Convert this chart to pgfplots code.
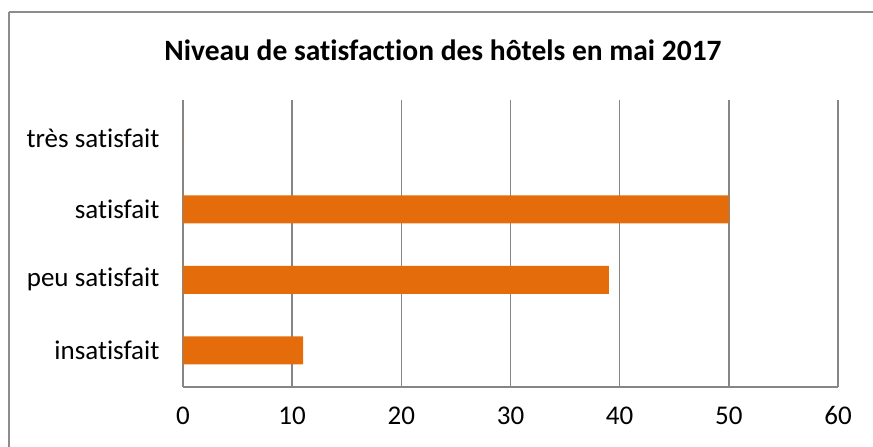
\documentclass[border=0pt]{standalone}
\usepackage{fontspec}
\setmainfont{Carlito}[Ligatures=NoCommon]
\usepackage{pgfplots}
\pgfplotsset{compat=1.18}
\definecolor{barorange}{RGB}{228,108,10}
\definecolor{gridgray}{RGB}{134,134,134}
\definecolor{framegray}{RGB}{140,140,140}

\begin{document}
\begin{tikzpicture}[x=1pt,y=1pt]
\useasboundingbox (0,0) rectangle (873,447);
\draw[framegray,line width=1.6pt] (9,435) -- (9,-20) (9,435) -- (890,435);
\node[font=\fontsize{29.5}{34}\bfseries\selectfont] at (443,397) {Niveau de satisfaction des hôtels en mai 2017};
\begin{axis}[
    at={(183pt,60pt)}, anchor=south west,
    scale only axis,
    width=655pt, height=287pt,
    xbar, bar width=28pt,
    xmin=0, xmax=60,
    ymin=-0.52, ymax=3.55,
    xtick={0,10,...,60},
    ytick={0,1,2,3},
    yticklabels={insatisfait,peu satisfait,satisfait,très satisfait},
    xmajorgrids,
    major grid style={gridgray,line width=1.6pt},
    axis x line*=bottom, axis y line*=left,
    axis line style={gridgray,line width=1.6pt,-},
    major tick length=0pt,
    tick label style={font=\fontsize{27}{32}\selectfont,black},
    /pgf/number format/assume math mode=true,
    xticklabel style={yshift=-16pt},
    yticklabel style={xshift=-20pt},
    clip=false,
]
\addplot[fill=barorange, draw=none] coordinates {(11,0) (39,1) (50,2) (0,3)};
\end{axis}
\end{tikzpicture}
\end{document}
